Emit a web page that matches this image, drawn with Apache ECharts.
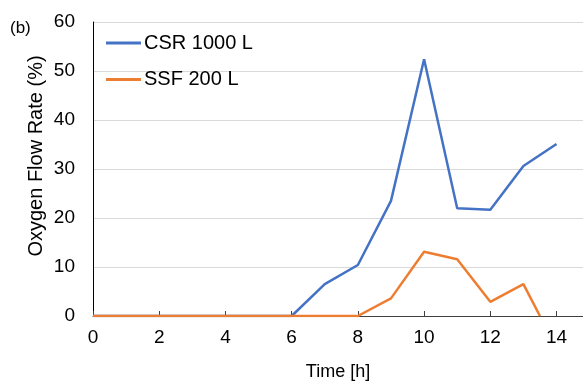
<!DOCTYPE html>
<html>
<head>
<meta charset="utf-8">
<script src="https://cdn.jsdelivr.net/npm/echarts@6/dist/echarts.min.js"></script>
<style>
html,body{margin:0;padding:0;background:#fff;}
#c{width:583px;height:381px;}
</style>
</head>
<body>
<div id="c"></div>
<script>
// Data
const csrTime = [0, 1, 2, 3, 4, 5, 6, 7, 8, 9, 10, 11, 12, 13, 14];
const csrValues = [0, 0, 0, 0, 0, 0, 0, 6.5, 10.4, 23.5, 52.4, 22.0, 21.7, 30.6, 35.1];
const ssfTime = [0, 1, 2, 3, 4, 5, 6, 7, 8, 9, 10, 11, 12, 13, 13.5];
const ssfValues = [0, 0, 0, 0, 0, 0, 0, 0, 0, 3.6, 13.1, 11.6, 2.9, 6.5, 0];
const xTicks = [0, 2, 4, 6, 8, 10, 12, 14];
const yTicks = [0, 10, 20, 30, 40, 50, 60];
const seriesNames = ['CSR 1000 L', 'SSF 200 L'];
const xTitle = 'Time [h]';
const yTitle = 'Oxygen Flow Rate (%)';

const font = 'Liberation Sans, Arial, sans-serif';
const chart = echarts.init(document.getElementById('c'), null, {renderer: 'canvas'});
chart.setOption({
  animation: false,
  backgroundColor: '#fff',
  grid: {left: 93, top: 22, right: 0, bottom: 65, containLabel: false, outerBoundsMode: 'none'},
  graphic: [
    {type: 'text', left: 10, top: 20,
     style: {text: '(b)', font: '17px ' + font, fill: '#000'}},
    {type: 'text', x: 36, y: 156, rotation: Math.PI / 2,
     style: {text: yTitle, font: '20px ' + font, fill: '#000', align: 'center', verticalAlign: 'middle'}}
  ],
  legend: {
    orient: 'vertical', left: 106, top: 33, padding: 0,
    itemWidth: 35, itemHeight: 3, itemGap: 16.5, icon: 'rect',
    textStyle: {fontFamily: font, fontSize: 20, color: '#000', lineHeight: 20, padding: [0,0,0,-2]},
    data: seriesNames
  },
  xAxis: {
    type: 'value', min: 0, max: 14.8, interval: 2,
    name: xTitle, nameLocation: 'middle', nameGap: 47,
    nameTextStyle: {fontFamily: font, fontSize: 18, color: '#000'},
    axisLine: {lineStyle: {color: '#404040', width: 1}},
    axisTick: {show: true, inside: true, length: 5, lineStyle: {color: '#404040'}, customValues: xTicks},
    axisLabel: {fontFamily: font, fontSize: 19, color: '#000', margin: 12, customValues: xTicks},
    splitLine: {show: false}
  },
  yAxis: {
    type: 'value', min: 0, max: 60, interval: 10,
    axisLine: {show: true, lineStyle: {color: '#000', width: 1}},
    axisTick: {show: false},
    axisLabel: {fontFamily: font, fontSize: 19, color: '#000', margin: 18, customValues: yTicks},
    splitLine: {show: true, lineStyle: {color: '#d9d9d9', width: 1}}
  },
  series: [
    {
      name: seriesNames[0], type: 'line', showSymbol: false, symbol: 'none',
      color: '#4472C4', lineStyle: {width: 2.5, color: '#4472C4'},
      data: csrTime.map((t, i) => [t, csrValues[i]]), z: 2
    },
    {
      name: seriesNames[1], type: 'line', showSymbol: false, symbol: 'none',
      color: '#ED7D31', lineStyle: {width: 2.5, color: '#ED7D31'},
      data: ssfTime.map((t, i) => [t, ssfValues[i]]), z: 3
    }
  ]
});
</script>
</body>
</html>
